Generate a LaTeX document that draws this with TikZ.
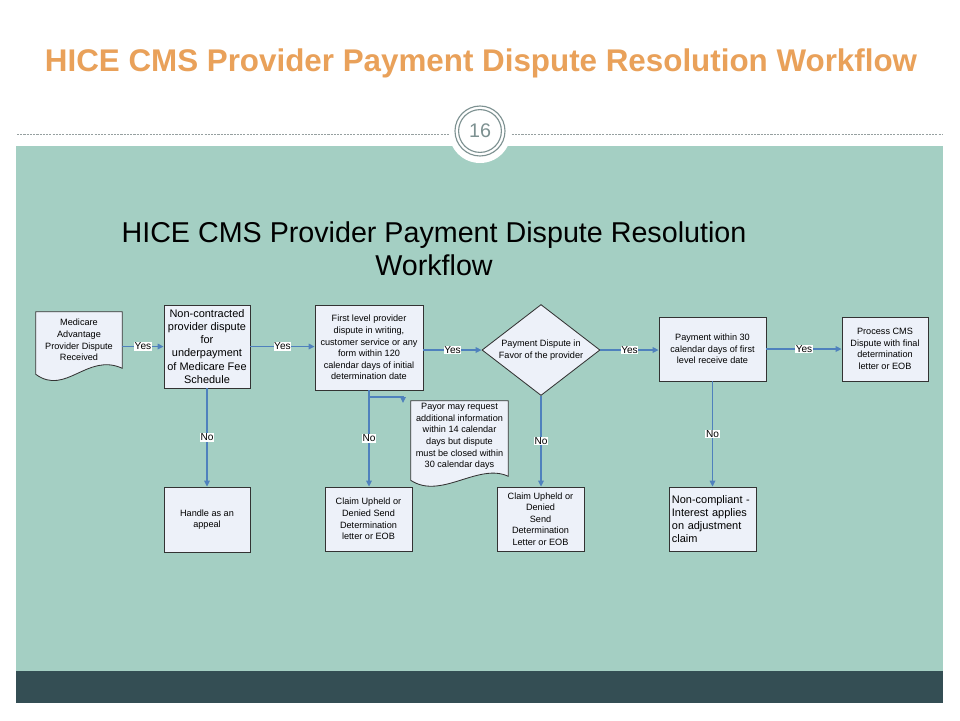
\documentclass[tikz,border=0pt]{standalone}
\usepackage{fontspec}
\setmainfont{Liberation Sans}
\usetikzlibrary{shapes.geometric,arrows.meta}

\definecolor{panel}{RGB}{164,207,195}
\definecolor{bar}{RGB}{52,78,84}
\definecolor{boxfill}{RGB}{237,241,249}
\definecolor{flowblue}{RGB}{79,129,189}
\definecolor{titleorange}{RGB}{233,161,90}
\definecolor{numgray}{RGB}{125,145,145}
\definecolor{dashgray}{RGB}{150,160,160}

\newcommand{\smalltxt}{\fontsize{6.5}{8.2}\selectfont}
\newcommand{\bigtxt}{\fontsize{7.8}{9.3}\selectfont}

\begin{document}
\begin{tikzpicture}[x=0.25mm,y=-0.25mm,
    box/.style={draw=black!80,line width=0.6pt,fill=boxfill,align=center,inner sep=1pt,font=\smalltxt},
    doc/.style={align=center,inner sep=1pt,font=\smalltxt},
    docline/.style={draw=black!80,line width=0.6pt,fill=boxfill},
    choice/.style={diamond,aspect=1.3,draw=black!80,line width=0.6pt,fill=boxfill,align=center,inner sep=0pt,font=\smalltxt,minimum width=29.5mm,minimum height=22.75mm},
    flow/.style={-{Triangle[length=1.5mm,width=1.4mm]},draw=flowblue,line width=0.9pt},
    yn/.style={fill=white,inner sep=0.4pt,font=\fontsize{7.2}{8}\selectfont}]
    \useasboundingbox (0,0) rectangle (960,720);
    \fill[white] (0,0) rectangle (960,720);
    % slide frame
    \fill[panel] (16,146) rectangle (943,671);
    \fill[bar] (16,671) rectangle (943,703);
    \draw[dashgray,dashed,line width=0.4pt,dash pattern=on 1.5pt off 0.8pt] (17,134) -- (943,134);
    \fill[white] (480,132) circle (7.75mm);
    \draw[numgray,line width=0.8pt] (480,131) circle (6.25mm);
    \draw[numgray,line width=0.8pt] (480,131) circle (5.35mm);
    \node[text=numgray,font=\fontsize{14}{16}\selectfont] (num) at (480,131) {16};
    \node[text=titleorange,font=\bfseries\fontsize{22.3}{26}\selectfont,anchor=base] (title) at (481,71) {HICE CMS Provider Payment Dispute Resolution Workflow};
    \node[font=\fontsize{20.4}{23.5}\selectfont,align=center,anchor=north] (head) at (434,217) {HICE CMS Provider Payment Dispute Resolution\\Workflow};

    % nodes
    \node[doc,minimum width=21.5mm,minimum height=15.5mm] (med) at (79,343) {};
    \draw[docline] (med.south west) .. controls +(30,22) and +(-35,-16) .. ([yshift=1.5mm]med.south east) -- (med.north east) -- (med.north west) -- cycle;
    \node[doc] at (79,340) {Medicare\\Advantage\\Provider Dispute\\Received};
    \node[box,font=\bigtxt,minimum width=21.5mm,minimum height=20.75mm] (noncon) at (207,346.5) {Non-contracted\\provider dispute\\for\\underpayment\\of Medicare Fee\\Schedule};
    \node[box,minimum width=27mm,minimum height=21.25mm] (first) at (369,347.5) {First level provider\\dispute in writing,\\customer service or any\\form  within 120\\calendar days of initial\\determination date};
    \node[choice] (favor) at (541,350) {Payment Dispute in\\Favor of the provider};
    \node[box,minimum width=26.75mm,minimum height=16mm] (pay30) at (712.5,349) {Payment within 30\\calendar days of  first\\level receive date};
    \node[box,minimum width=21.5mm,minimum height=16mm] (cms) at (885,349) {Process CMS\\Dispute with final\\determination\\letter or EOB};
    \node[box,minimum width=21.5mm,minimum height=16.25mm] (appeal) at (207,519.5) {Handle as an\\appeal};
    \node[box,minimum width=21.75mm,minimum height=16mm] (upheld) at (368.5,519) {Claim Upheld or\\Denied Send\\Determination\\letter or EOB};
    \node[doc,minimum width=24.25mm,minimum height=19.75mm] (payor) at (459.5,440.5) {};
    \draw[docline] (payor.south west) .. controls +(30,20) and +(-30,-14) .. ([yshift=1mm]payor.south east) -- (payor.north east) -- (payor.north west) -- cycle;
    \node[doc] at ([yshift=1mm]payor.center) {Payor may request\\additional information\\within 14 calendar\\days but dispute\\must be closed within\\30 calendar days};
    \node[box,minimum width=21.75mm,minimum height=16mm] (upheld2) at (540.5,519) {Claim Upheld or\\Denied\\Send\\Determination\\Letter or EOB};
    \node[box,font=\bigtxt,align=left,text width=20.3mm,inner xsep=2pt,minimum width=21.75mm,minimum height=16mm] (noncomp) at (712.5,519) {Non-compliant -\\Interest applies\\on adjustment\\claim};
    \coordinate (branch) at (369,397);
    \coordinate (side) at (403,403);

    % connectors
    \draw[flow] (med.east |- noncon.west) -- node[yn] {Yes} (noncon.west);
    \draw[flow] (noncon.east) -- node[yn] {Yes} (noncon.east -| first.west);
    \draw[flow] (first.east |- favor.west) -- node[yn] {Yes} (favor.west);
    \draw[flow] (favor.east) -- node[yn] {Yes} (favor.east -| pay30.west);
    \draw[flow] (pay30.east) -- node[yn] {Yes} (pay30.east -| cms.west);
    \draw[flow] (noncon.south) -- node[yn] {No} (appeal.north);
    \draw[flow] (first.south) -- node[yn] {No} (first.south |- upheld.north);
    \draw[flow] (favor.south) -- node[yn] {No} (favor.south |- upheld2.north);
    \draw[flow] (pay30.south) -- node[yn] {No} (pay30.south |- noncomp.north);
    \draw[flow] (branch) -| (side);
\end{tikzpicture}
\end{document}
